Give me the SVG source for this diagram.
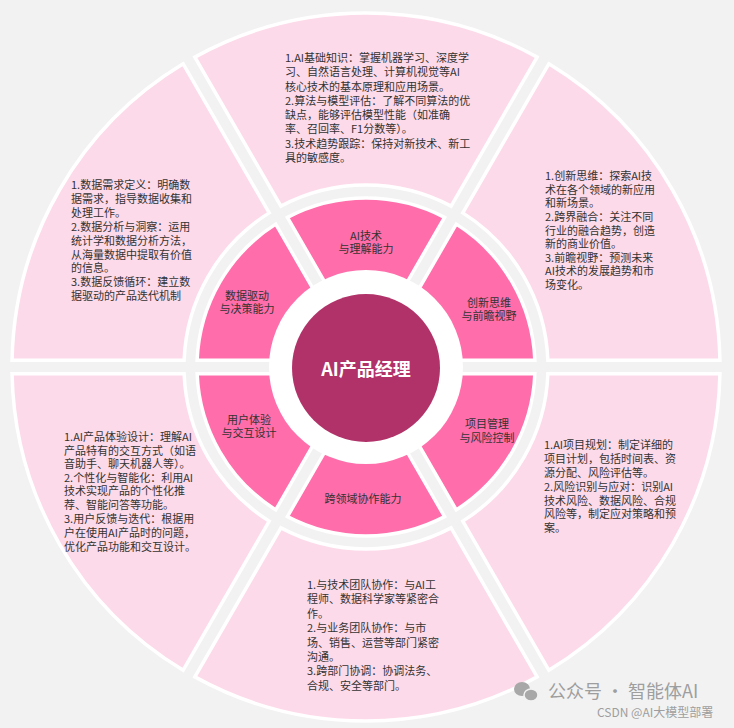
<svg xmlns="http://www.w3.org/2000/svg" width="734" height="728" viewBox="0 0 734 728">
<style>
.outer{fill:#fddae9;stroke:#ffffff;stroke-width:3.5;stroke-linejoin:miter}
.inner{fill:#ff6eaa;stroke:#ffffff;stroke-width:3.5;stroke-linejoin:miter}
.t{font-family:"Noto Sans CJK SC","Noto Sans",sans-serif;font-size:11px;fill:#333333}
.lab{font-family:"Noto Sans CJK SC","Noto Sans",sans-serif;font-size:11px;fill:#333333;text-anchor:middle}
.ctr{font-family:"Noto Sans CJK SC","Noto Sans",sans-serif;font-size:18px;font-weight:bold;fill:#ffffff;text-anchor:middle}
.wm{font-family:"Noto Sans CJK SC","Noto Sans",sans-serif;fill:#9e9e9e}
</style>
<rect x="0" y="0" width="734" height="728" fill="#f2f2f2"/>
<g id="ring" transform="translate(366,367)">
  <g id="outer-ring">
    <path id="o-proj" class="outer" d="M353.94,6.75 A354,354 0 0 1 182.81,303.14 L96.78,154.13 A182,182 0 0 0 181.88,6.75 Z"/>
    <path id="o-collab" class="outer" d="M171.12,309.89 A354,354 0 0 1 -171.12,309.89 L-85.09,160.88 A182,182 0 0 0 85.09,160.88 Z"/>
    <path id="o-ux" class="outer" d="M-182.81,303.14 A354,354 0 0 1 -353.94,6.75 L-181.88,6.75 A182,182 0 0 0 -96.78,154.13 Z"/>
    <path id="o-data" class="outer" d="M-353.94,-6.75 A354,354 0 0 1 -182.81,-303.14 L-96.78,-154.13 A182,182 0 0 0 -181.88,-6.75 Z"/>
    <path id="o-tech" class="outer" d="M-171.12,-309.89 A354,354 0 0 1 171.12,-309.89 L85.09,-160.88 A182,182 0 0 0 -85.09,-160.88 Z"/>
    <path id="o-innov" class="outer" d="M182.81,-303.14 A354,354 0 0 1 353.94,-6.75 L181.88,-6.75 A182,182 0 0 0 96.78,-154.13 Z"/>
  </g>
  <g id="inner-ring">
    <path class="inner" d="M168.87,6.75 A169,169 0 0 1 90.28,142.87 L45.70,65.66 A80,80 0 0 0 79.72,6.75 Z"/>
    <path class="inner" d="M78.59,149.62 A169,169 0 0 1 -78.59,149.62 L-34.01,72.41 A80,80 0 0 0 34.01,72.41 Z"/>
    <path class="inner" d="M-90.28,142.87 A169,169 0 0 1 -168.87,6.75 L-79.72,6.75 A80,80 0 0 0 -45.70,65.66 Z"/>
    <path class="inner" d="M-168.87,-6.75 A169,169 0 0 1 -90.28,-142.87 L-45.70,-65.66 A80,80 0 0 0 -79.72,-6.75 Z"/>
    <path class="inner" d="M-78.59,-149.62 A169,169 0 0 1 78.59,-149.62 L34.01,-72.41 A80,80 0 0 0 -34.01,-72.41 Z"/>
    <path class="inner" d="M90.28,-142.87 A169,169 0 0 1 168.87,-6.75 L79.72,-6.75 A80,80 0 0 0 45.70,-65.66 Z"/>
  </g>
  <circle cx="0" cy="0" r="97" fill="#ffffff"/>
</g>
<g id="center">
  <circle cx="366" cy="368" r="74" fill="#b03268"/>
  <text class="ctr" x="366" y="376">AI产品经理</text>
</g>
<g id="node-tech">
  <text class="lab" x="366" y="240">AI技术</text>
  <text class="lab" x="366" y="253">与理解能力</text>
</g>
<g id="node-innov">
  <text class="lab" x="489" y="307">创新思维</text>
  <text class="lab" x="489" y="320">与前瞻视野</text>
</g>
<g id="node-data">
  <text class="lab" x="247" y="300">数据驱动</text>
  <text class="lab" x="247" y="313">与决策能力</text>
</g>
<g id="node-ux">
  <text class="lab" x="249" y="424">用户体验</text>
  <text class="lab" x="249" y="437">与交互设计</text>
</g>
<g id="node-proj">
  <text class="lab" x="487" y="428">项目管理</text>
  <text class="lab" x="487" y="442">与风险控制</text>
</g>
<g id="node-collab">
  <text class="lab" x="363" y="503">跨领域协作能力</text>
</g>
<g id="detail-tech">
  <text class="t" x="285" y="62">1.AI基础知识：掌握机器学习、深度学</text>
  <text class="t" x="285" y="76">习、自然语言处理、计算机视觉等AI</text>
  <text class="t" x="285" y="91">核心技术的基本原理和应用场景。</text>
  <text class="t" x="285" y="105">2.算法与模型评估：了解不同算法的优</text>
  <text class="t" x="285" y="119">缺点，能够评估模型性能（如准确</text>
  <text class="t" x="285" y="133">率、召回率、F1分数等）。</text>
  <text class="t" x="285" y="148">3.技术趋势跟踪：保持对新技术、新工</text>
  <text class="t" x="285" y="162">具的敏感度。</text>
</g>
<g id="detail-innov">
  <text class="t" x="545" y="180">1.创新思维：探索AI技</text>
  <text class="t" x="545" y="194">术在各个领域的新应用</text>
  <text class="t" x="545" y="207">和新场景。</text>
  <text class="t" x="545" y="221">2.跨界融合：关注不同</text>
  <text class="t" x="545" y="235">行业的融合趋势，创造</text>
  <text class="t" x="545" y="248">新的商业价值。</text>
  <text class="t" x="545" y="262">3.前瞻视野：预测未来</text>
  <text class="t" x="545" y="275">AI技术的发展趋势和市</text>
  <text class="t" x="545" y="289">场变化。</text>
</g>
<g id="detail-data">
  <text class="t" x="71" y="189">1.数据需求定义：明确数</text>
  <text class="t" x="71" y="203">据需求，指导数据收集和</text>
  <text class="t" x="71" y="217">处理工作。</text>
  <text class="t" x="71" y="231">2.数据分析与洞察：运用</text>
  <text class="t" x="71" y="245">统计学和数据分析方法，</text>
  <text class="t" x="71" y="259">从海量数据中提取有价值</text>
  <text class="t" x="71" y="272">的信息。</text>
  <text class="t" x="71" y="286">3.数据反馈循环：建立数</text>
  <text class="t" x="71" y="300">据驱动的产品迭代机制</text>
</g>
<g id="detail-ux">
  <text class="t" x="64" y="441">1.AI产品体验设计：理解AI</text>
  <text class="t" x="64" y="455">产品特有的交互方式（如语</text>
  <text class="t" x="64" y="468">音助手、聊天机器人等）。</text>
  <text class="t" x="64" y="482">2.个性化与智能化：利用AI</text>
  <text class="t" x="64" y="495">技术实现产品的个性化推</text>
  <text class="t" x="64" y="509">荐、智能问答等功能。</text>
  <text class="t" x="64" y="523">3.用户反馈与迭代：根据用</text>
  <text class="t" x="64" y="537">户在使用AI产品时的问题，</text>
  <text class="t" x="64" y="551">优化产品功能和交互设计。</text>
</g>
<g id="detail-proj">
  <text class="t" x="544" y="449">1.AI项目规划：制定详细的</text>
  <text class="t" x="544" y="463">项目计划，包括时间表、资</text>
  <text class="t" x="544" y="477">源分配、风险评估等。</text>
  <text class="t" x="544" y="491">2.风险识别与应对：识别AI</text>
  <text class="t" x="544" y="505">技术风险、数据风险、合规</text>
  <text class="t" x="544" y="518">风险等，制定应对策略和预</text>
  <text class="t" x="544" y="532">案。</text>
</g>
<g id="detail-collab">
  <text class="t" x="307" y="589">1.与技术团队协作：与AI工</text>
  <text class="t" x="307" y="603">程师、数据科学家等紧密合</text>
  <text class="t" x="307" y="618">作。</text>
  <text class="t" x="307" y="632">2.与业务团队协作：与市</text>
  <text class="t" x="307" y="647">场、销售、运营等部门紧密</text>
  <text class="t" x="307" y="661">沟通。</text>
  <text class="t" x="307" y="675">3.跨部门协调：协调法务、</text>
  <text class="t" x="307" y="690">合规、安全等部门。</text>
</g>
<g id="watermark">
  <ellipse cx="522" cy="689" rx="8" ry="7" fill="#a8a8a8"/>
  <ellipse cx="531" cy="695" rx="7" ry="6" fill="#a8a8a8" stroke="#f2f2f2" stroke-width="1.5"/>
  <text class="wm" x="548" y="698" font-size="18">公众号 · 智能体AI</text>
  <text class="wm" x="597" y="717" font-size="12" fill="#c4c4c4">CSDN @AI大模型部署</text>
</g>
</svg>
